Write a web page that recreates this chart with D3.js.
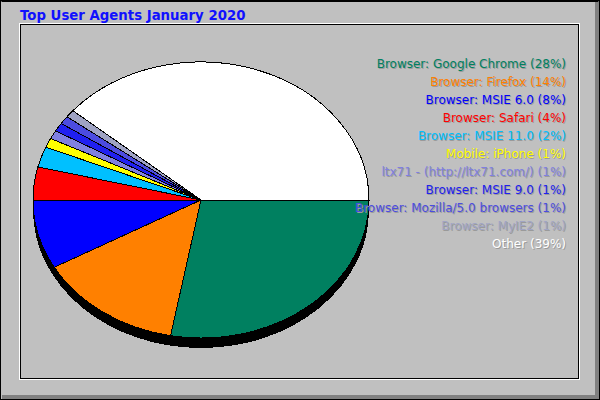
<!DOCTYPE html>
<html>
<head>
<meta charset="utf-8">
<script src="https://cdn.jsdelivr.net/npm/d3@7"></script>
<style>
  html, body { margin: 0; padding: 0; background: #c0c0c0; }
  svg { display: block; }
  text { font-family: "DejaVu Sans", sans-serif; }
</style>
</head>
<body>
<svg id="chart" width="600" height="400"></svg>
<script>
const title = "Top User Agents January 2020";
const labels = [
  "Browser: Google Chrome (28%)",
  "Browser: Firefox (14%)",
  "Browser: MSIE 6.0 (8%)",
  "Browser: Safari (4%)",
  "Browser: MSIE 11.0 (2%)",
  "Mobile: iPhone (1%)",
  "ltx71 - (http://ltx71.com/) (1%)",
  "Browser: MSIE 9.0 (1%)",
  "Browser: Mozilla/5.0 browsers (1%)",
  "Browser: MyIE2 (1%)",
  "Other (39%)"
];
const values = [27.9, 14.0, 8.1, 3.85, 2.4, 1.1, 1.0, 1.0, 0.95, 0.9, 38.8];
const colors = ["#008060", "#ff8000", "#0000ff", "#ff0000", "#00c0ff", "#ffff00",
                "#8080e0", "#2020f0", "#4c4ce0", "#a0a4c4", "#ffffff"];

const svg = d3.select("#chart");
const W = 600, H = 400;

// frame
svg.append("rect").attr("x", 0).attr("y", 0).attr("width", W).attr("height", H).attr("fill", "#c0c0c0");
svg.append("rect").attr("x", 595).attr("y", 2).attr("width", 4).attr("height", 397).attr("fill", "#808080");
svg.append("rect").attr("x", 2).attr("y", 395).attr("width", 597).attr("height", 4).attr("fill", "#808080");
svg.append("rect").attr("x", 0.5).attr("y", 0.5).attr("width", W - 1).attr("height", H - 1)
  .attr("fill", "none").attr("stroke", "#000").attr("stroke-width", 1);
svg.append("rect").attr("x", 1.5).attr("y", 1.5).attr("width", W - 3).attr("height", H - 3)
  .attr("fill", "none").attr("stroke", "#000").attr("stroke-width", 1).attr("stroke-dasharray", `${W-3} ${H-3} 0 ${W-3+H-3}`);
// inner panel
svg.append("rect").attr("x", 19.5).attr("y", 23.5).attr("width", 560).attr("height", 356)
  .attr("fill", "none").attr("stroke", "#fff").attr("stroke-width", 1).attr("shape-rendering", "crispEdges");
svg.append("rect").attr("x", 20.5).attr("y", 24.5).attr("width", 558).attr("height", 354)
  .attr("fill", "none").attr("stroke", "#000").attr("stroke-width", 1).attr("shape-rendering", "crispEdges");

// title
svg.append("text").attr("x", 20).attr("y", 19.5)
  .attr("font-size", "13.3px").attr("font-weight", "bold").attr("fill", "#1010ff")
  .text(title);

// pie (elliptical)
const cx = 201, cy = 200, rx = 168, ry = 138, depth = 10;
svg.append("ellipse").attr("cx", cx).attr("cy", cy + depth).attr("rx", rx).attr("ry", ry)
  .attr("fill", "#000").attr("shape-rendering", "crispEdges");

const pie = d3.pie().sort(null).value(d => d)
  .startAngle(Math.PI / 2).endAngle(Math.PI / 2 + 2 * Math.PI);
const arc = d3.arc().innerRadius(0).outerRadius(rx);
const g = svg.append("g").attr("transform", `translate(${cx},${cy}) scale(1,${ry / rx})`);
g.selectAll("path").data(pie(values)).join("path")
  .attr("d", arc)
  .attr("fill", (d, i) => colors[i])
  .attr("stroke", "#000")
  .attr("stroke-width", 1)
  .attr("vector-effect", "non-scaling-stroke")
  .attr("shape-rendering", "crispEdges");

// legend
const y = d3.scalePoint().domain(d3.range(labels.length)).range([68, 248]);
const leg = svg.append("g");
leg.selectAll("text.sh").data(labels).join("text").attr("class", "sh")
  .attr("x", 567).attr("y", (d, i) => y(i) + 1)
  .attr("text-anchor", "end").attr("font-size", "12px").attr("fill", "#9a9a9a")
  .text(d => d);
leg.selectAll("text.fg").data(labels).join("text").attr("class", "fg")
  .attr("x", 566).attr("y", (d, i) => y(i))
  .attr("text-anchor", "end").attr("font-size", "12px").attr("fill", (d, i) => colors[i])
  .text(d => d);
</script>
</body>
</html>
